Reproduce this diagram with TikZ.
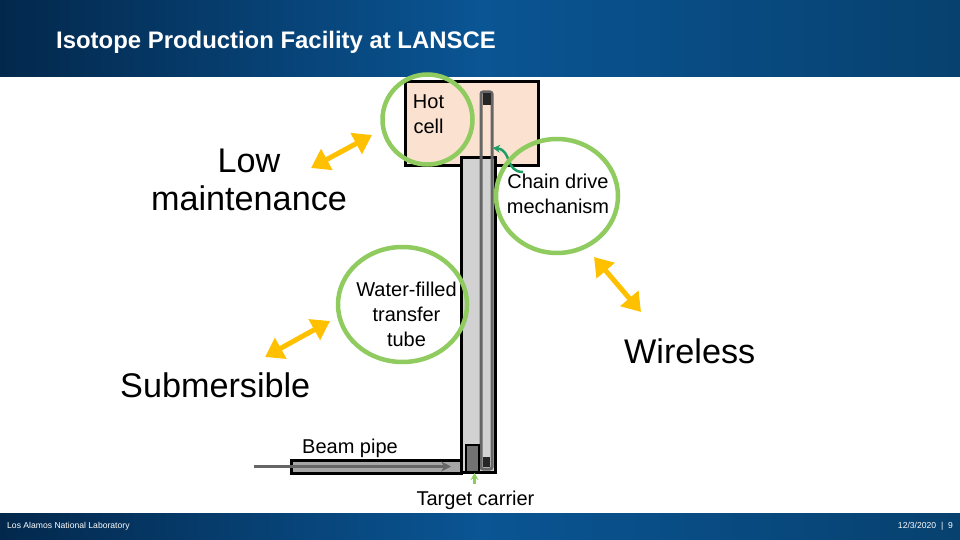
\documentclass[tikz,border=0pt]{standalone}
\usepackage{fontspec}
\usepackage{xcolor}
\setmainfont{Liberation Sans}
\usetikzlibrary{shapes.geometric, arrows.meta, positioning, calc}
\definecolor{ringgreen}{HTML}{8FCB5F}
\definecolor{chaingray}{HTML}{666666}
\definecolor{cellpeach}{HTML}{FBE1D0}
\definecolor{tubegray}{HTML}{D2D2D2}
\definecolor{pipegray}{HTML}{A6A6A6}
\definecolor{linkamber}{HTML}{FFC000}
\definecolor{barnavy}{HTML}{03284C}
\definecolor{barblue}{HTML}{0A5594}
\definecolor{barend}{HTML}{07416F}
\definecolor{driveteal}{HTML}{1E9E64}

\begin{document}
\begin{tikzpicture}[
  x=1pt, y=-1pt,
  bar/.style     = {rectangle, inner sep=0pt, left color=barnavy, right color=barend, middle color=barblue},
  vessel/.style  = {rectangle, draw=black, line width=3pt, inner sep=0pt},
  ring/.style    = {ellipse, draw=ringgreen, line width=4.5pt, inner sep=0pt},
  tag/.style     = {font=\fontsize{20}{25}\selectfont, align=center, inner sep=0pt},
  claim/.style   = {font=\fontsize{34.2}{38}\selectfont, align=center, inner sep=0pt},
  foot/.style    = {font=\fontsize{8.6}{10}\selectfont, text=white, inner sep=0pt},
  link/.style    = {{Triangle[length=18pt,width=23pt]}-{Triangle[length=18pt,width=23pt]}, line width=5pt, linkamber},
  chain/.style   = {draw=chaingray, line width=3pt},
  bead/.style    = {rectangle, fill=black!85, inner sep=0pt}
]
\useasboundingbox (0,0) rectangle (960,540);

% ── Header and footer bars ───────────────────────────────────────────────────
\node[bar, minimum width=960pt, minimum height=77pt] (head) at (480,38.5) {};
\node[bar, minimum width=960pt, minimum height=27pt] (foot) at (480,526.5) {};
\node[anchor=west, inner sep=0pt, text=white, font=\fontsize{23.9}{28}\selectfont\bfseries] (title) at (56,42)
     {Isotope Production Facility at LANSCE};
\node[foot, anchor=west] (lab) at (7,526.5) {Los Alamos National Laboratory};
\node[foot, anchor=east] (page) at (953,526.5) {12/3/2020 \ | \ 9};

% ── Hot cell, transfer tube, beam pipe ───────────────────────────────────────
\node[vessel, fill=cellpeach, minimum width=133pt, minimum height=83.5pt] (cell) at (471.5,123.5) {};
\node[vessel, fill=pipegray, minimum width=170pt, minimum height=13pt] (pipe) at (376,466.5) {};
\node[vessel, fill=tubegray, minimum width=34pt, minimum height=315pt] (tube) at (478.5,315) {};

% ── Chain loop and carriers ──────────────────────────────────────────────────
\node[rectangle, chain, rounded corners=2pt, minimum width=11pt, minimum height=377pt, inner sep=0pt] (loop) at (486.5,280.5) {};
\node[bead, minimum width=8pt, minimum height=12pt] (topbead) at (487,99) {};
\node[bead, minimum width=7pt, minimum height=10pt] (lowbead) at (486.5,462) {};
\node[rectangle, draw=black, line width=2pt, fill=black!55, minimum width=13pt, minimum height=27pt, inner sep=0pt] (carrier) at (472.5,458.5) {};

% ── Beam arrow and small pointers ────────────────────────────────────────────
\coordinate (beamin) at (254,466.5);
\coordinate (beamend) at (451,466.5);
\draw[chaingray, line width=3pt, -{Stealth[length=10pt,width=10pt]}] (beamin) -- (beamend);
\coordinate (carriertail) at (474.5,484);
\draw[ringgreen, line width=2.5pt, -{Stealth[length=7pt,width=8pt]}] (carriertail) -- (carrier.south -| carriertail);
\coordinate (drivetail) at (523,172);
\coordinate (drivehead) at (493,148);
\draw[driveteal, line width=2.5pt, -{Stealth[length=7pt,width=8pt]}] (drivetail) .. controls (505,172) and (512,150) .. (drivehead);

% ── Green rings ──────────────────────────────────────────────────────────────
\node[ring, minimum width=90pt, minimum height=90pt] (hotring) at (427.5,119.5) {};
\node[ring, minimum width=122pt, minimum height=114pt] (chainring) at (557,196) {};
\node[ring, minimum width=129pt, minimum height=115pt] (waterring) at (402.5,304.5) {};

% ── Labels ───────────────────────────────────────────────────────────────────
\node[tag] (hotlabel) at (428.5,114.5) {Hot\\cell};
\node[tag] (chainlabel) at (558,193.5) {Chain drive\\mechanism};
\node[tag] (waterlabel) at (406.5,314.5) {Water-filled\\transfer\\tube};
\node[tag, anchor=west] (beamlabel) at (302,448) {Beam pipe};
\node[tag] (carrierlabel) at (475.5,500) {Target carrier};
\node[claim] (lowlabel) at (249,179.5) {Low\\maintenance};
\node[claim, anchor=west] (sublabel) at (120,385.5) {Submersible};
\node[claim, anchor=west] (wirelabel) at (624,351.5) {Wireless};

% ── Amber double arrows ──────────────────────────────────────────────────────
\coordinate (lowa) at (311,168);
\coordinate (lowb) at (372,135);
\coordinate (suba) at (265,357);
\coordinate (subb) at (330,321);
\coordinate (wirea) at (594,257);
\coordinate (wireb) at (641,312);
\draw[link] (lowa) -- (lowb);
\draw[link] (suba) -- (subb);
\draw[link] (wirea) -- (wireb);
\end{tikzpicture}
\end{document}
